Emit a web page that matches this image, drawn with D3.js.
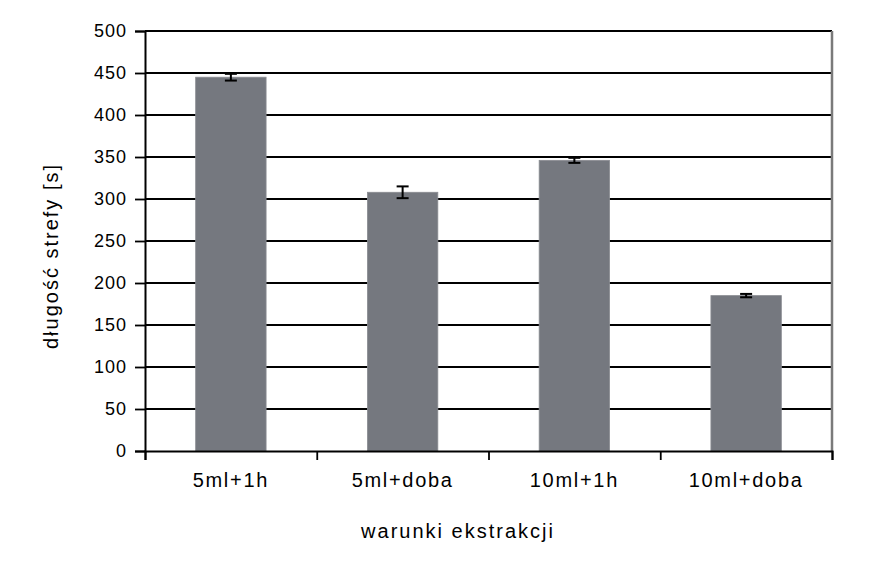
<!DOCTYPE html>
<html>
<head>
<meta charset="utf-8">
<script src="https://cdn.jsdelivr.net/npm/d3@7"></script>
<style>
  html, body { margin: 0; padding: 0; background: #fff; }
  svg { display: block; }
  text { font-family: "Liberation Sans", Arial, sans-serif; fill: #000; }
</style>
</head>
<body>
<svg id="chart" width="869" height="578"></svg>
<script>
const categories = ["5ml+1h", "5ml+doba", "10ml+1h", "10ml+doba"];
const values = [445, 308, 346, 185];
const errors = [4, 7, 3, 2];
const yTicks = [0, 50, 100, 150, 200, 250, 300, 350, 400, 450, 500];
const xTitle = "warunki ekstrakcji";
const yTitle = "długość strefy [s]";

const svg = d3.select("#chart");
const L = 145, R = 832, T = 31, B = 451;

const x = d3.scaleBand().domain(categories).range([L, R]).paddingInner(0.59).paddingOuter(0.295);
const xTick = d3.scaleLinear().domain([0, categories.length]).range([L, R]);
const y = d3.scaleLinear().domain([0, 500]).range([B, T]);

// gridlines
svg.append("g").selectAll("line").data(yTicks.filter(d => d > 0)).join("line")
  .attr("x1", L).attr("x2", R)
  .attr("y1", d => Math.round(y(d))).attr("y2", d => Math.round(y(d)))
  .attr("stroke", "#000").attr("stroke-width", 1.8);

// right border
svg.append("line").attr("x1", R).attr("x2", R).attr("y1", T).attr("y2", B)
  .attr("stroke", "#7a7a7a").attr("stroke-width", 2.5);

// bars
svg.append("g").selectAll("rect").data(categories).join("rect")
  .attr("x", d => x(d)).attr("width", x.bandwidth())
  .attr("y", (d, i) => y(values[i])).attr("height", (d, i) => B - y(values[i]))
  .attr("fill", "#75787f").attr("stroke", "#8a8c92").attr("stroke-width", 0.8);

// error bars
const eb = svg.append("g").attr("stroke", "#000").attr("stroke-width", 2);
categories.forEach((c, i) => {
  const cx = x(c) + x.bandwidth() / 2;
  const y1 = y(values[i] + errors[i]), y2 = y(values[i] - errors[i]);
  eb.append("line").attr("x1", cx).attr("x2", cx).attr("y1", y1).attr("y2", y2);
  eb.append("line").attr("x1", cx - 6).attr("x2", cx + 6).attr("y1", y1).attr("y2", y1);
  eb.append("line").attr("x1", cx - 6).attr("x2", cx + 6).attr("y1", y2).attr("y2", y2);
});

// y axis
const yAxis = svg.append("g").attr("transform", `translate(${L},0)`)
  .call(d3.axisLeft(y).tickValues(yTicks).tickSize(10).tickPadding(8).tickFormat(d3.format("d")));
yAxis.select(".domain").attr("stroke", "#000").attr("stroke-width", 2);
yAxis.selectAll(".tick line").attr("stroke", "#000").attr("stroke-width", 1.8);
yAxis.selectAll(".tick text").style("font-size", "18px").style("letter-spacing", "1px").attr("fill", "#000");

// x axis
const xAxis = svg.append("g").attr("transform", `translate(0,${B})`)
  .call(d3.axisBottom(xTick).tickValues(d3.range(categories.length + 1)).tickSize(9).tickFormat(""));
xAxis.select(".domain").attr("stroke", "#000").attr("stroke-width", 2);
xAxis.selectAll(".tick line").attr("stroke", "#000").attr("stroke-width", 1.8);

svg.append("g").selectAll("text").data(categories).join("text")
  .attr("x", d => x(d) + x.bandwidth() / 2).attr("y", 487)
  .attr("text-anchor", "middle").style("font-size", "20px").style("letter-spacing", "1.7px").text(d => d);

svg.append("text").attr("x", 458).attr("y", 538).attr("text-anchor", "middle")
  .style("font-size", "20px").style("letter-spacing", "2px").text(xTitle);

svg.append("text").attr("transform", "translate(58,256) rotate(-90)").attr("text-anchor", "middle")
  .style("font-size", "20px").style("letter-spacing", "2px").text(yTitle);
</script>
</body>
</html>
